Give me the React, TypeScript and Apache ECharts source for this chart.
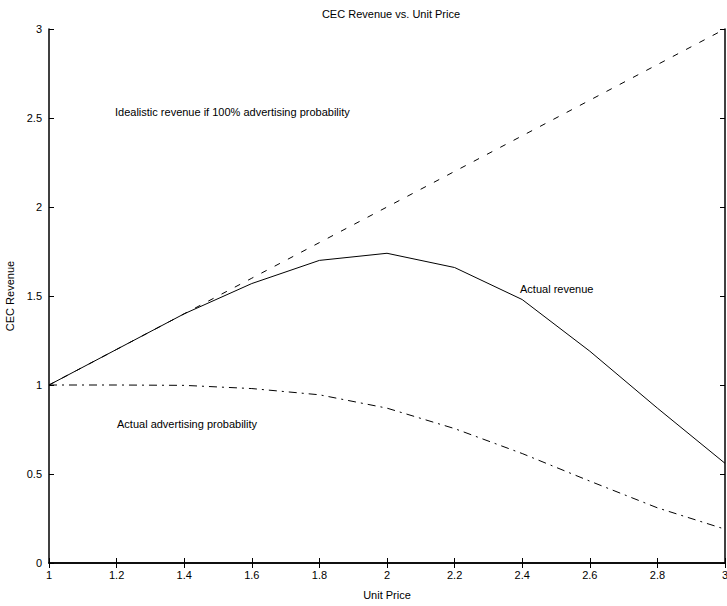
import React, { useEffect, useRef } from "react";
import * as echarts from "echarts";

const unitPrice = [1, 1.2, 1.4, 1.6, 1.8, 2.0, 2.2, 2.4, 2.6, 2.8, 3.0];
const idealRevenue = [1, 1.2, 1.4, 1.6, 1.8, 2.0, 2.2, 2.4, 2.6, 2.8, 3.0];
const actualRevenue = [1.0, 1.2, 1.4, 1.57, 1.7, 1.74, 1.66, 1.48, 1.19, 0.87, 0.56];
const adProbability = [1.0, 1.0, 0.998, 0.98, 0.945, 0.87, 0.755, 0.615, 0.46, 0.31, 0.19];

const titleText = "CEC Revenue vs. Unit Price";
const xName = "Unit Price";
const yName = "CEC Revenue";
const labelIdeal = "Idealistic revenue if 100% advertising probability";
const labelActual = "Actual revenue";
const labelProb = "Actual advertising probability";

const FONT = "Liberation Sans, Arial, sans-serif";

export default function App() {
  const ref = useRef<HTMLDivElement>(null);
  useEffect(() => {
    if (!ref.current) return;
    const chart = echarts.init(ref.current, undefined, { renderer: "svg" });
    const pairs = (ys: number[]) => unitPrice.map((x, i) => [x, ys[i]]);
    const axisCommon = {
      min: 1,
      max: 3,
      interval: 0.2,
    };
    chart.setOption({
      animation: false,
      backgroundColor: "#fff",
      textStyle: { fontFamily: FONT, color: "#000" },
      title: {
        text: titleText,
        left: 386,
        textAlign: "center",
        top: 3,
        textStyle: { fontSize: 11, fontWeight: "normal", color: "#000", fontFamily: FONT },
      },
      grid: {
        left: 49,
        right: 2,
        top: 29,
        bottom: 43,
        containLabel: false,
        outerBoundsMode: "none",
      },
      xAxis: [
        {
          type: "value",
          ...axisCommon,
          position: "bottom",
          name: xName,
          nameLocation: "middle",
          nameGap: 26,
          nameTextStyle: { fontSize: 11, color: "#000", fontFamily: FONT },
          axisLine: { lineStyle: { color: "#000", width: 1.5 } },
          axisTick: { inside: true, length: 5, lineStyle: { color: "#000" } },
          axisLabel: {
            color: "#000",
            fontSize: 11,
            margin: 6,
            formatter: (v: number) => String(Math.round(v * 10) / 10),
          },
          splitLine: { show: false },
        },
        {
          type: "value",
          ...axisCommon,
          position: "top",
          axisLine: { lineStyle: { color: "#000", width: 1.5 } },
          axisTick: { inside: true, length: 5, lineStyle: { color: "#000" } },
          axisLabel: { show: false },
          splitLine: { show: false },
        },
      ],
      yAxis: [
        {
          type: "value",
          min: 0,
          max: 3,
          interval: 0.5,
          position: "left",
          name: yName,
          nameLocation: "middle",
          nameGap: 30,
          nameRotate: 90,
          nameTextStyle: { fontSize: 11, color: "#000", fontFamily: FONT },
          axisLine: { show: true, lineStyle: { color: "#000", width: 1.5 } },
          axisTick: { show: true, inside: true, length: 5, lineStyle: { color: "#000" } },
          axisLabel: { color: "#000", fontSize: 11, margin: 7 },
          splitLine: { show: false },
        },
        {
          type: "value",
          min: 0,
          max: 3,
          interval: 0.5,
          position: "right",
          axisLine: { show: true, lineStyle: { color: "#000", width: 1.5 } },
          axisTick: { show: true, inside: true, length: 5, lineStyle: { color: "#000" } },
          axisLabel: { show: false },
          splitLine: { show: false },
        },
      ],
      series: [
        {
          type: "line",
          name: "Ideal",
          data: pairs(idealRevenue),
          showSymbol: false,
          symbol: "none",
          lineStyle: { color: "#000", width: 1, type: [6, 9] },
        },
        {
          type: "line",
          name: "Actual",
          data: pairs(actualRevenue),
          showSymbol: false,
          symbol: "none",
          lineStyle: { color: "#000", width: 1 },
        },
        {
          type: "line",
          name: "Probability",
          data: pairs(adProbability),
          showSymbol: false,
          symbol: "none",
          lineStyle: { color: "#000", width: 1, type: [8, 5, 2, 5] },
        },
      ],
      graphic: [
        {
          type: "text",
          left: 115,
          top: 106,
          style: { text: labelIdeal, fontSize: 11, fill: "#000", fontFamily: FONT },
        },
        {
          type: "text",
          left: 520,
          top: 283,
          style: { text: labelActual, fontSize: 11, fill: "#000", fontFamily: FONT },
        },
        {
          type: "text",
          left: 117,
          top: 418,
          style: { text: labelProb, fontSize: 11, fill: "#000", fontFamily: FONT },
        },
      ],
    });
    return () => chart.dispose();
  }, []);
  return <div ref={ref} style={{ width: 727, height: 606, position: "absolute", left: 0, top: 0 }} />;
}
